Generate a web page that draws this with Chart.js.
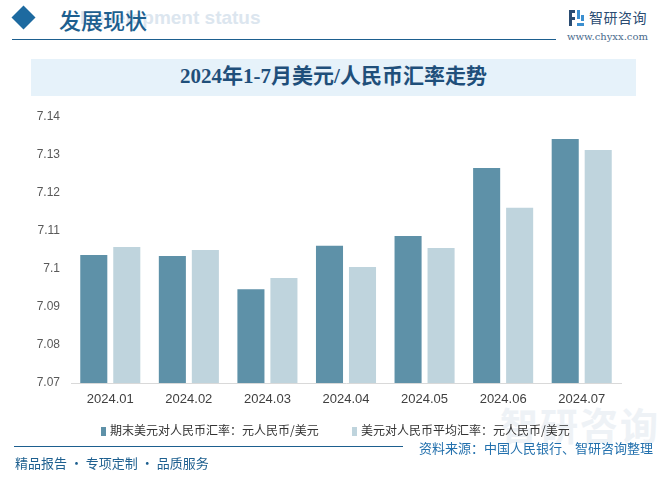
<!DOCTYPE html>
<html>
<head>
<meta charset="utf-8">
<script src="https://cdn.jsdelivr.net/npm/chart.js"></script>
<style>
  body { margin: 0; background: #fff; }
  #page { position: relative; width: 668px; height: 481px; overflow: hidden; background: #fff;
          font-family: "Noto Sans CJK SC", sans-serif; }
  .abs { position: absolute; white-space: nowrap; }
  #diamond { left: 15px; top: 9px; width: 17px; height: 17px; background: #1d6aa0; transform: rotate(45deg); }
  #sectionEn { left: 80px; top: 7px; font: bold 19px "Liberation Sans", sans-serif; color: #dce6ef; }
  #section { left: 59px; top: 3px; font: 500 22px "Noto Sans CJK SC"; color: #1d5f8f; }
  #hline { left: 12px; top: 39px; width: 544px; height: 0; border-top: 1.5px solid #1d5f8f; }
  #logoIcon { left: 569px; top: 10px; width: 15px; height: 16px; }
  #logoText { left: 589px; top: 7px; font: 14px "Noto Sans CJK SC"; color: #2a4c72; letter-spacing: 0.5px; }
  #logoUrl { left: 567px; top: 31px; font: 10px "DejaVu Serif", serif; color: #4a6a8c; }
  #titleBox { left: 31px; top: 59px; width: 605px; height: 37px; background: #e6f2fa; }
  #title { left: 31px; top: 59px; width: 605px; height: 37px; line-height: 37px; text-align: center;
           font: bold 21px "Liberation Serif", "Noto Sans CJK SC", serif; color: #1f4f7a; }
  #chart { position: absolute; left: 0; top: 0; }
  .leg { top: 421px; font: 12px "Noto Sans CJK SC"; color: #333; }
  .leg i { display: inline-block; width: 5px; height: 9px; margin-right: 4px; vertical-align: -1px; }
  #fline { left: 14px; top: 446px; width: 389px; height: 0; border-top: 1.5px solid #1d5f8f; }
  #source { left: 419px; top: 438px; font: 13px "Noto Sans CJK SC"; color: #2270ad; }
  #slogan { left: 15px; top: 453px; font: 13px "Noto Sans CJK SC"; color: #1d5f8f; }
  #wm { left: 500px; top: 396px; font: bold 38px "Noto Sans CJK SC"; color: #eef2f6; letter-spacing: 2px; }
</style>
</head>
<body>
<div id="page">
  <div class="abs" id="wm">智研咨询</div>
  <div class="abs" id="diamond"></div>
  <div class="abs" id="sectionEn">Development status</div>
  <div class="abs" id="section">发展现状</div>
  <div class="abs" id="hline"></div>
  <svg class="abs" id="logoIcon" viewBox="0 0 15 16">
    <rect x="0" y="0" width="6" height="3" fill="#2a4c72"/>
    <rect x="0" y="0" width="3" height="16" fill="#2a4c72"/>
    <rect x="0" y="7" width="6" height="3" fill="#2a4c72"/>
    <rect x="8" y="0" width="3" height="9" fill="#3b8fd0"/>
    <rect x="8" y="13" width="7" height="3" fill="#3b8fd0"/>
    <rect x="12" y="5" width="3" height="6" fill="#3b8fd0"/>
  </svg>
  <div class="abs" id="logoText">智研咨询</div>
  <div class="abs" id="logoUrl">www.chyxx.com</div>
  <div class="abs" id="titleBox"></div>
  <div class="abs" id="title">2024年1-7月美元/人民币汇率走势</div>
  <canvas id="chart" width="668" height="481"></canvas>
  <div class="abs leg" id="leg0" style="left:101px"></div>
  <div class="abs leg" id="leg1" style="left:352px"></div>
  <div class="abs" id="fline"></div>
  <div class="abs" id="source">资料来源：中国人民银行、智研咨询整理</div>
  <div class="abs" id="slogan">精品报告 · 专项定制 · 品质服务</div>
</div>
<script>
// data
const months = ['2024.01', '2024.02', '2024.03', '2024.04', '2024.05', '2024.06', '2024.07'];
const seriesNames = ['期末美元对人民币汇率：元人民币/美元', '美元对人民币平均汇率：元人民币/美元'];
const endRate = [7.1037, 7.1034, 7.0947, 7.1061, 7.1087, 7.1266, 7.1342];
const avgRate = [7.1058, 7.1050, 7.0976, 7.1005, 7.1055, 7.1161, 7.1313];
const yTicks = [7.07, 7.08, 7.09, 7.1, 7.11, 7.12, 7.13, 7.14];

const colors = ['#5e91a8', '#bfd4dd'];

// html legend
seriesNames.forEach(function(name, i) {
    const el = document.getElementById('leg' + i);
    el.innerHTML = '<i style="background:' + colors[i] + '"></i>' + name;
});

Chart.defaults.font.family = '"Liberation Sans", "Noto Sans CJK SC", sans-serif';

const ctx = document.getElementById('chart');
new Chart(ctx, {
    type: 'bar',
    data: {
        labels: months,
        datasets: [{
            label: seriesNames[0],
            data: endRate,
            backgroundColor: colors[0]
        }, {
            label: seriesNames[1],
            data: avgRate,
            backgroundColor: colors[1]
        }]
    },
    options: {
        responsive: false,
        animation: false,
        datasets: {
            bar: { barPercentage: 0.82, categoryPercentage: 0.84 }
        },
        layout: {
            padding: { top: 117, right: 47, bottom: 76, left: 0 }
        },
        plugins: {
            legend: { display: false },
            tooltip: { enabled: false }
        },
        scales: {
            x: {
                grid: { display: false, drawTicks: false },
                border: { display: true, color: '#d9d9d9', width: 1 },
                ticks: { padding: 9, color: '#404040', font: { size: 13 } },
                afterFit: function(scale) { scale.height = 22; }
            },
            y: {
                min: yTicks[0],
                max: yTicks[yTicks.length - 1],
                grid: { display: false, drawTicks: false },
                border: { display: false },
                afterBuildTicks: function(scale) {
                    scale.ticks = yTicks.map(v => ({ value: v }));
                },
                ticks: {
                    padding: 11,
                    color: '#595959',
                    font: { size: 12 },
                    callback: function(v) { return String(parseFloat(v.toFixed(2))); }
                },
                afterFit: function(scale) { scale.width = 71; }
            }
        }
    }
});
</script>
</body>
</html>
